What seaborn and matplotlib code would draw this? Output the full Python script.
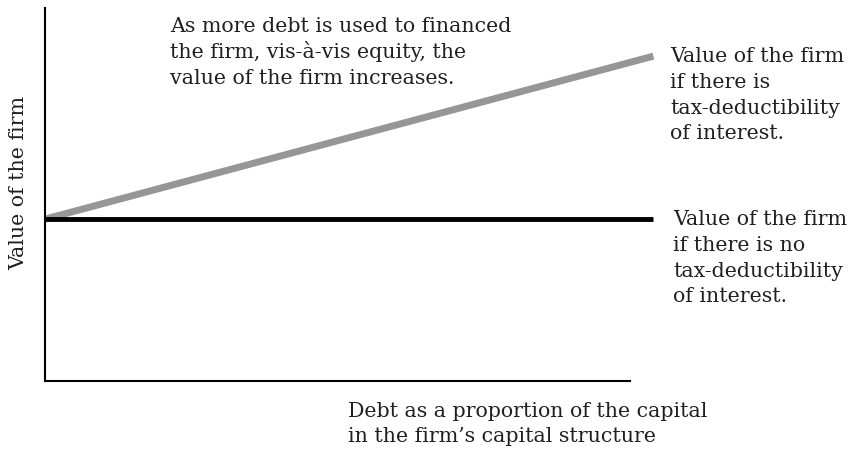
import matplotlib
matplotlib.use('Agg')
import matplotlib.pyplot as plt
import numpy as np
import pandas as pd
import seaborn as sns

# 数据
debt = [0, 1.04]                 # 负债占资本比例
value_no_tax = [0.434, 0.434]    # 利息不可抵税
value_tax = [0.434, 0.871]       # 利息可抵税

top_note = ['As more debt is used to financed',
            'the firm, vis-à-vis equity, the',
            'value of the firm increases.']
tax_label = ['Value of the firm', 'if there is',
             'tax-deductibility', 'of interest.']
no_tax_label = ['Value of the firm', 'if there is no',
                'tax-deductibility', 'of interest.']
x_label = ['Debt as a proportion of the capital',
           'in the firm\u2019s capital structure']
y_label = 'Value of the firm'

sns.set_theme(style='white')
plt.rcParams['font.family'] = ['DejaVu Serif']

W, H = 854, 454
fig = plt.figure(figsize=(W / 100, H / 100), dpi=100)
ax = fig.add_axes([45 / W, 1 - 381 / H, 585 / W, 373 / H])

sns.lineplot(x=debt, y=value_tax, color='#969696', linewidth=5,
             solid_capstyle='butt', clip_on=False, ax=ax)
sns.lineplot(x=debt, y=value_no_tax, color='black', linewidth=3.5,
             solid_capstyle='butt', clip_on=False, ax=ax)

ax.set_xlim(0, 1)
ax.set_ylim(0, 1)
ax.set_xticks([])
ax.set_yticks([])
for s in ['top', 'right']:
    ax.spines[s].set_visible(False)
for s in ['left', 'bottom']:
    ax.spines[s].set_color('black')
    ax.spines[s].set_linewidth(1.5)

fs = 14.8
txt_color = '#231f20'


def lines_at(x, y0, lines, step=25.8):
    # 每行单独按基线放置（像素坐标）
    for i, t in enumerate(lines):
        fig.text(x / W, 1 - (y0 + i * step) / H, t, fontsize=fs,
                 color=txt_color, ha='left', va='baseline')


lines_at(170, 32, top_note)
lines_at(670, 62, tax_label)
lines_at(673, 225, no_tax_label)
lines_at(348, 417, x_label, step=25)

fig.text(19 / W, 1 - 183 / H, y_label, fontsize=fs, color=txt_color,
         rotation=90, ha='center', va='center')

fig.savefig('out.png', dpi=100)
